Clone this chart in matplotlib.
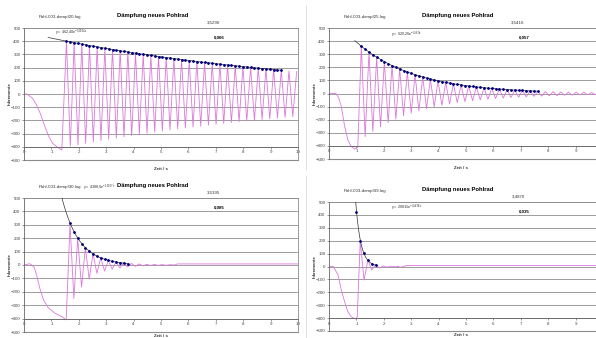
import numpy as np
import matplotlib.pyplot as plt
from matplotlib.lines import Line2D

plt.rcParams['font.family'] = ['Liberation Sans', 'DejaVu Sans']
plt.rcParams['mathtext.fontset'] = 'custom'
plt.rcParams['mathtext.rm'] = 'Liberation Sans'
plt.rcParams['mathtext.it'] = 'Liberation Sans'

W, H = 596, 338
HALF = 0.14  # half period of the swing, s

# ---- dampf20 (top left) ----
pre20_t = [0, 0.1, 0.3, 0.45, 0.6, 0.75, 0.9, 1.05, 1.2, 1.38]
pre20_v = [0, 0, -30, -80, -150, -240, -320, -375, -400, -425]
start20 = 1.55
peaks20 = [400, 389, 378, 367, 357, 347, 337, 328, 318, 309, 301, 292, 284, 276, 268, 261,
           253, 246, 239, 233, 226, 220, 213, 207, 202, 196, 191, 185, 180, 175, 170]
troughs20 = [-395, -385, -374, -364, -353, -343, -334, -324, -315, -306, -297, -289, -280, -272,
             -265, -257, -250, -243, -236, -229, -223, -216, -210, -204, -199, -193, -188, -182,
             -177, -172]
post20_t = []
post20_v = []
dots20 = [400, 394, 389, 383, 378, 373, 367, 362, 357, 352, 347, 342, 337, 333, 328, 323, 318,
          314, 309, 305, 301, 297, 292, 288, 284, 280, 276, 272, 268, 265, 261, 257, 253, 250,
          246, 243, 239, 236, 233, 230, 226, 223, 220, 217, 213, 210, 207, 204, 202, 199, 196,
          193, 191, 188, 185, 183, 180]
trend20 = (0.88, 9.39)

# ---- dampf25 (top right) ----
pre25_t = [0, 0.25, 0.35, 0.45, 0.57, 0.69, 0.81, 0.94, 1.05]
pre25_v = [0, 0, -30, -100, -250, -355, -405, -425, -410]
start25 = 1.18
peaks25 = [360, 316, 277, 243, 213, 187, 164, 144, 126, 110, 97, 85, 75, 65, 57, 50, 44, 39,
           34, 30, 26, 23, 20, 17, 15, 14, 12, 11, 10, 9, 8, 7]
troughs25 = [-330, -290, -255, -222, -195, -170, -150, -132, -116, -102, -90, -80, -70, -62,
             -55, -49, -44, -39, -35, -31, -28, -25, -22, -20, -18, -16, -14, -13, -11, -10, -9]
post25_t = []
post25_v = []
dots25 = [360, 337, 316, 296, 277, 259, 243, 228, 213, 200, 187, 175, 164, 154, 144, 135, 126,
          118, 110, 103, 97, 91, 85, 80, 75, 70, 65, 61, 57, 54, 50, 47, 44, 41, 39, 36, 34,
          32, 30, 28, 26, 24, 23, 21, 20, 19, 17]
trend25 = (0.94, 7.62)

# ---- dampf30 (bottom left) ----
pre30_t = [0, 0.12, 0.2, 0.28, 0.38, 0.46, 0.58, 0.71, 0.89, 1.13, 1.38, 1.54]
pre30_v = [0, 5, 10, 0, -20, -75, -175, -260, -320, -360, -385, -410]
start30 = 1.68
peaks30 = [310, 200, 130, 85, 55, 35, 25, 18, 12, 8, 5, 4, 3, 2]
troughs30 = [-250, -165, -105, -62, -45, -32, -22, -15, -10, -6, -4, -3, -2]
post30_t = [5.5, 5.6, 10]
post30_v = [0, 8, 8]
dots30 = [310, 250, 200, 160, 130, 105, 84, 67, 54, 43, 35, 28, 22, 18, 14, 11]
trend30 = (1.3, 3.78)

# ---- dampf39 (bottom right) ----
pre39_t = [0, 0.16, 0.33, 0.45, 0.57, 0.69, 0.81, 0.96, 1.03]
pre39_v = [0, 0, -66, -182, -273, -350, -389, -407, -390]
start39 = 1.14
peaks39 = [195, 50, 15, 5, 2, 1]
troughs39 = [-105, -27, -12, -5, -2]
post39_t = [2.5, 2.6, 2.75, 2.8, 10]
post39_v = [0, -5, 0, 8, 8]
dots39_t = [1.0, 1.14, 1.28, 1.42, 1.56, 1.70]
dots39 = [420, 200, 105, 50, 22, 10]
trend39 = (0.96, 1.75)

panels = [
    dict(box=(24, 28, 160), log='Pohl-003-dampf20.log', val='3,5290', res='0,066',
         eq=r'y = 462,40e$^{-0{,}0914x}$', eq_xy=(55, 33),
         pre=(pre20_t, pre20_v), start=start20, peaks=peaks20, troughs=troughs20,
         post=(post20_t, post20_v), dots_t=None, dots=dots20, trend=trend20,
         xl=(0.5, -0.055), xmax_tick=10),
    dict(box=(329, 28, 159), log='Pohl-003-dampf25.log', val='3,5416', res='0,057',
         eq=r'y = 620,26e$^{-0{,}469x}$', eq_xy=(391, 35),
         pre=(pre25_t, pre25_v), start=start25, peaks=peaks25, troughs=troughs25,
         post=(post25_t, post25_v), dots_t=None, dots=dots25, trend=trend25,
         xl=(0.48, -0.055), xmax_tick=9),
    dict(box=(24, 198, 332), log='Pohl-003-dampf30.log', val='3,5395', res='0,085',
         eq=r'y = 4388,6e$^{-1{,}6097x}$', eq_xy=(83, 188),
         pre=(pre30_t, pre30_v), start=start30, peaks=peaks30, troughs=troughs30,
         post=(post30_t, post30_v), dots_t=None, dots=dots30, trend=trend30,
         xl=(0.5, -0.012), xmax_tick=10),
    dict(box=(329, 202, 331), log='Pohl-003-dampf39.log', val='3,4870', res='0,035',
         eq=r'y = 20815e$^{-4{,}4296x}$', eq_xy=(391, 208),
         pre=(pre39_t, pre39_v), start=start39, peaks=peaks39, troughs=troughs39,
         post=(post39_t, post39_v), dots_t=dots39_t, dots=dots39, trend=trend39,
         xl=(0.48, -0.012), xmax_tick=9),
]

PINK = '#dd77dd'
GRID = '#8c8c8c'
FS = 3.2

fig = plt.figure(figsize=(W / 100, H / 100), dpi=100)

for p in panels:
    left, top, bottom = p['box']
    ax = fig.add_axes([left / W, 1 - bottom / H, 274 / W, (bottom - top) / H])
    ax.set_xlim(0, 10)
    ax.set_ylim(-500, 500)

    # swing: start curve, then alternating turning points, then tail
    ext = []
    for i in range(len(p['peaks'])):
        ext.append(p['peaks'][i])
        if i < len(p['troughs']):
            ext.append(p['troughs'][i])
    ext_t = p['start'] + HALF * np.arange(len(ext))
    t = np.concatenate([p['pre'][0], ext_t, p['post'][0]])
    v = np.concatenate([p['pre'][1], ext, p['post'][1]])
    ax.plot(t, v, color=PINK, lw=0.6, zorder=2)

    # maxima and exponential trendline
    if p['dots_t'] is None:
        dt = p['start'] + HALF * np.arange(len(p['dots']))
    else:
        dt = np.array(p['dots_t'])
    dv = np.array(p['dots'], dtype=float)
    b, lna = np.polyfit(dt, np.log(dv), 1)
    tt = np.linspace(p['trend'][0], p['trend'][1], 200)
    ax.plot(tt, np.exp(lna + b * tt), color='#333333', lw=0.5, zorder=3)
    ax.plot(dt, dv, ls='none', marker='D', ms=0.9, color='#000080', zorder=4)

    # Excel-like frame
    ax.set_yticks(range(-500, 501, 100))
    ax.set_xticks(range(0, p['xmax_tick'] + 1))
    ax.grid(axis='y', color=GRID, lw=0.6)
    ax.axhline(-500, color=GRID, lw=0.8, clip_on=False)
    ax.spines['bottom'].set_position(('data', -400))
    for s in ['top', 'right']:
        ax.spines[s].set_color(GRID)
        ax.spines[s].set_linewidth(0.6)
    ax.spines['left'].set_color('#666666')
    ax.spines['left'].set_linewidth(0.6)
    ax.spines['bottom'].set_color('#666666')
    ax.spines['bottom'].set_linewidth(0.6)
    ax.tick_params(labelsize=FS, length=1.5, width=0.4, pad=1, colors='#444444')
    ax.text(p['xl'][0], p['xl'][1], 'Zeit / s', transform=ax.transAxes, fontsize=FS,
            fontweight='bold', ha='center', va='top', color='#333333')
    ax.text(-0.052, 0.5, 'Inkremente', transform=ax.transAxes, fontsize=FS,
            fontweight='bold', rotation=90, ha='center', va='center', color='#333333')

    # headings around the plot
    cx = left + 130
    fig.text((left + 36) / W, 1 - (top - 11) / H, p['log'], fontsize=FS, ha='center',
             va='center', color='#333333')
    fig.text((cx - 1) / W, 1 - (top - 13) / H, 'Dämpfung neues Pohlrad', fontsize=4.2,
             fontweight='bold', ha='center', va='center')
    fig.text((left + 189) / W, 1 - (top - 5) / H, p['val'], fontsize=FS, ha='center',
             va='center', color='#333333')
    fig.text((left + 195) / W, 1 - (top + 9) / H, p['res'], fontsize=FS, fontweight='bold',
             ha='center', va='center')
    ex, ey = p['eq_xy']
    fig.text(ex / W, 1 - ey / H, p['eq'], fontsize=2.7, ha='left', va='center',
             color='#333333')

# light borders between the chart areas
for y0, y1 in [(5, 170), (176, 338)]:
    fig.add_artist(Line2D([306 / W, 306 / W], [1 - y0 / H, 1 - y1 / H],
                          color='#dddddd', lw=0.6))

fig.savefig('out.png', dpi=100)
